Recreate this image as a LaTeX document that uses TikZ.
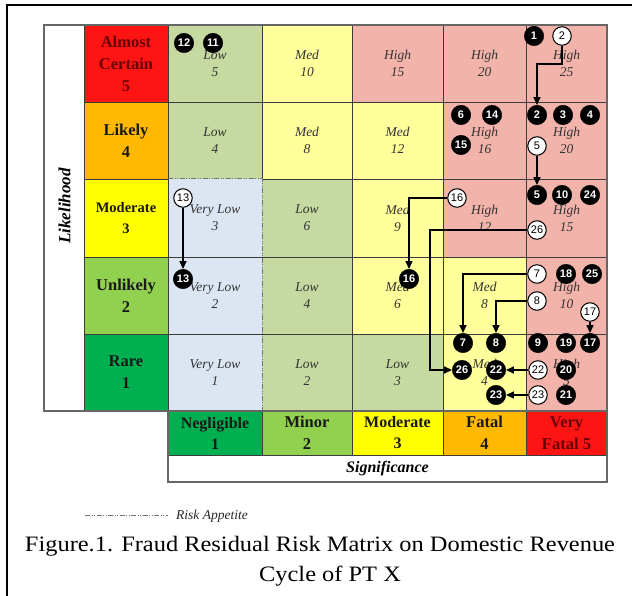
\documentclass[tikz,border=0pt]{standalone}
\usepackage{fontspec}
\setmainfont{Liberation Serif}
\newfontfamily\numfont{Liberation Sans}
\usetikzlibrary{arrows.meta}
\definecolor{cRed}{RGB}{255,20,20}
\definecolor{cOrange}{RGB}{255,185,0}
\definecolor{cYellow}{RGB}{255,255,0}
\definecolor{cLGreen}{RGB}{146,208,80}
\definecolor{cGreen}{RGB}{0,176,80}
\definecolor{pinkC}{RGB}{242,180,170}
\definecolor{yelC}{RGB}{255,255,155}
\definecolor{grnC}{RGB}{197,217,160}
\definecolor{bluC}{RGB}{220,230,242}
\definecolor{darkRed}{RGB}{105,0,0}
\definecolor{gridC}{RGB}{60,60,60}
\begin{document}
\begin{tikzpicture}[x=1pt,y=-1pt,
  cellbox/.style={inner sep=0pt, align=center, text=black!80,
    font=\itshape\fontsize{13.5}{17}\selectfont},
  hdr/.style={inner sep=0pt, align=center, text=black!90,
    font=\bfseries\fontsize{16.5}{22}\selectfont},
  bk/.style={circle, fill=black, draw=black, text=white, inner sep=0pt,
    minimum size=19.5pt, font=\numfont\bfseries\fontsize{11}{11}\selectfont},
  wh/.style={circle, fill=white, draw=black, line width=1pt, text=black, inner sep=0pt,
    minimum size=18.5pt, font=\numfont\fontsize{11}{11}\selectfont},
  arr/.style={line width=1.6pt, -{Triangle[length=8pt,width=7pt]}},
  gl/.style={draw=gridC, line width=0.8pt},
  appetite/.style={draw=black!55, line width=1pt,
    dash pattern=on 5pt off 1.5pt on 1pt off 1.5pt on 1pt off 1.5pt}]
\useasboundingbox (0,0) rectangle (632,596);
% outer frame (cropped)
\draw[line width=1.6pt] (7,596) -- (7,5) -- (632,5);

% ---- cells ----
% row 5
\node[cellbox, fill=grnC, minimum width=94pt, minimum height=77pt] (r5c1) at (215,63.5) {Low\\5};
\node[cellbox, fill=yelC, minimum width=90pt, minimum height=77pt] (r5c2) at (307,63.5) {Med\\10};
\node[cellbox, fill=pinkC, minimum width=91pt, minimum height=77pt] (r5c3) at (397.5,63.5) {High\\15};
\node[cellbox, fill=pinkC, minimum width=83pt, minimum height=77pt] (r5c4) at (484.5,63.5) {High\\20};
\node[cellbox, fill=pinkC, minimum width=81pt, minimum height=77pt] (r5c5) at (566.5,63.5) {High\\25};
% row 4
\node[cellbox, fill=grnC, minimum width=94pt, minimum height=77pt] (r4c1) at (215,140.5) {Low\\4};
\node[cellbox, fill=yelC, minimum width=90pt, minimum height=77pt] (r4c2) at (307,140.5) {Med\\8};
\node[cellbox, fill=yelC, minimum width=91pt, minimum height=77pt] (r4c3) at (397.5,140.5) {Med\\12};
\node[cellbox, fill=pinkC, minimum width=83pt, minimum height=77pt] (r4c4) at (484.5,140.5) {High\\16};
\node[cellbox, fill=pinkC, minimum width=81pt, minimum height=77pt] (r4c5) at (566.5,140.5) {High\\20};
% row 3
\node[cellbox, fill=bluC, minimum width=94pt, minimum height=78pt] (r3c1) at (215,218) {Very Low\\3};
\node[cellbox, fill=grnC, minimum width=90pt, minimum height=78pt] (r3c2) at (307,218) {Low\\6};
\node[cellbox, fill=yelC, minimum width=91pt, minimum height=78pt] (r3c3) at (397.5,218) {Med\\9};
\node[cellbox, fill=pinkC, minimum width=83pt, minimum height=78pt] (r3c4) at (484.5,218) {High\\12};
\node[cellbox, fill=pinkC, minimum width=81pt, minimum height=78pt] (r3c5) at (566.5,218) {High\\15};
% row 2
\node[cellbox, fill=bluC, minimum width=94pt, minimum height=77pt] (r2c1) at (215,295.5) {Very Low\\2};
\node[cellbox, fill=grnC, minimum width=90pt, minimum height=77pt] (r2c2) at (307,295.5) {Low\\4};
\node[cellbox, fill=yelC, minimum width=91pt, minimum height=77pt] (r2c3) at (397.5,295.5) {Med\\6};
\node[cellbox, fill=yelC, minimum width=83pt, minimum height=77pt] (r2c4) at (484.5,295.5) {Med\\8};
\node[cellbox, fill=pinkC, minimum width=81pt, minimum height=77pt] (r2c5) at (566.5,295.5) {High\\10};
% row 1
\node[cellbox, fill=bluC, minimum width=94pt, minimum height=77pt] (r1c1) at (215,372.5) {Very Low\\1};
\node[cellbox, fill=grnC, minimum width=90pt, minimum height=77pt] (r1c2) at (307,372.5) {Low\\2};
\node[cellbox, fill=grnC, minimum width=91pt, minimum height=77pt] (r1c3) at (397.5,372.5) {Low\\3};
\node[cellbox, fill=yelC, minimum width=83pt, minimum height=77pt] (r1c4) at (484.5,372.5) {Med\\4};
\node[cellbox, fill=pinkC, minimum width=81pt, minimum height=77pt] (r1c5) at (566.5,372.5) {High\\5};

% ---- row headers ----
\node[hdr, fill=cRed, text=darkRed, minimum width=84pt, minimum height=77pt] (h5) at (126,64) {Almost\\Certain\\5};
\node[hdr, fill=cOrange, minimum width=84pt, minimum height=77pt] (h4) at (126,140.5) {Likely\\4};
\node[hdr, fill=cYellow, minimum width=84pt, minimum height=78pt, font=\bfseries\fontsize{14.5}{21}\selectfont] (h3) at (126,218) {Moderate\\3};
\node[hdr, fill=cLGreen, minimum width=84pt, minimum height=77pt] (h2) at (126,295.5) {Unlikely\\2};
\node[hdr, fill=cGreen, minimum width=84pt, minimum height=77pt] (h1) at (126,372.5) {Rare\\1};
\node[inner sep=0pt, rotate=90, font=\bfseries\itshape\fontsize{17}{17}\selectfont] (lik) at (64.5,206) {Likelihood};

% ---- column headers ----
\node[hdr, fill=cGreen, minimum width=94pt, minimum height=44pt, font=\bfseries\fontsize{16}{21}\selectfont] (k1) at (215,433) {Negligible\\1};
\node[hdr, fill=cLGreen, minimum width=90pt, minimum height=44pt] (k2) at (307,433) {Minor\\2};
\node[hdr, fill=cYellow, minimum width=91pt, minimum height=44pt, font=\bfseries\fontsize{16}{21}\selectfont] (k3) at (397.5,433) {Moderate\\3};
\node[hdr, fill=cOrange, minimum width=83pt, minimum height=44pt] (k4) at (484.5,433) {Fatal\\4};
\node[hdr, fill=cRed, text=darkRed, minimum width=81pt, minimum height=44pt] (k5) at (566.5,433) {Very\\Fatal 5};
\node[inner sep=0pt, font=\bfseries\itshape\fontsize{16}{16}\selectfont] (sig) at (387.5,468.5) {Significance};

% ---- grid lines ----
\draw[gl] (84,102) -- (607,102);
\draw[gl] (84,179) -- (168,179) (262,179) -- (607,179);
\draw[gl] (84,257) -- (607,257);
\draw[gl] (84,334) -- (607,334);
\draw[gl] (84,25) -- (84,411);
\draw[gl] (168,25) -- (168,482);
\draw[gl] (262,25) -- (262,179) (262,411) -- (262,455);
\draw[gl] (352,25) -- (352,455);
\draw[gl] (443,25) -- (443,455);
\draw[gl] (526,25) -- (526,455);
\draw[gl] (168,455) -- (607,455);
\draw[draw=black!60, line width=1.3pt] (44,25) rectangle (607,411);
\draw[draw=black!60, line width=1.3pt] (168,411) -- (168,482) -- (607,482) -- (607,411);
% risk appetite boundary
\draw[appetite] (168,179) -- (262,179) -- (262,411);

% ---- risk markers ----
\node[bk] (b1) at (534,36) {1};
\node[wh] (w2) at (562,36) {2};
\node[bk] (b12) at (184,43) {12};
\node[bk] (b11) at (213,43) {11};
\node[bk] (b2) at (537,115) {2};
\node[bk] (b3) at (563,115) {3};
\node[bk] (b4) at (590,115) {4};
\node[bk] (b6) at (461,115) {6};
\node[bk] (b14) at (492,115) {14};
\node[bk] (b15) at (461,145) {15};
\node[wh] (w5) at (537,146) {5};
\node[bk] (b5) at (537,195) {5};
\node[bk] (b10) at (562,195) {10};
\node[bk] (b24) at (590,195) {24};
\node[wh] (w16) at (457,198) {16};
\node[bk] (b16) at (409,279) {16};
\node[wh] (w26) at (537,230) {26};
\node[bk] (b26) at (462,370) {26};
\node[wh] (w13) at (183,198) {13};
\node[bk] (b13) at (183,279) {13};
\node[wh] (w7) at (537,274) {7};
\node[bk] (b18) at (566,274) {18};
\node[bk] (b25) at (592,274) {25};
\node[wh] (w8) at (537,301) {8};
\node[wh] (w17) at (590,312) {17};
\node[bk] (b7) at (463,343) {7};
\node[bk] (b8) at (496,343) {8};
\node[bk] (b9) at (538,343) {9};
\node[bk] (b19) at (566,343) {19};
\node[bk] (b17) at (590,343) {17};
\node[bk] (b22) at (496,370) {22};
\node[wh] (w22) at (538,370) {22};
\node[bk] (b20) at (566,370) {20};
\node[bk] (b23) at (496,395) {23};
\node[wh] (w23) at (538,395) {23};
\node[bk] (b21) at (566,395) {21};

% ---- movement arrows ----
\draw[arr] (w2.south) -- ++(0,18) -| (b2.north);
\draw[arr] (w5.south) -- (b5.north);
\draw[arr] (w13.south) -- (b13.north);
\draw[arr] (w16.west) -| (b16.north);
\draw[arr] (w26.west) -- ++(-97.5,0) |- (b26.west);
\draw[arr] (w7.west) -| (b7.north);
\draw[arr] (w8.west) -| (b8.north);
\draw[arr] (w17.south) -- (b17.north);
\draw[arr] (w22.west) -- (b22.east);
\draw[arr] (w23.west) -- (b23.east);

% ---- legend ----
\coordinate (la) at (85,515);
\coordinate (lb) at (168,515);
\draw[appetite, line width=0.8pt] (la) -- (lb);
\node[anchor=west, inner sep=0pt, font=\itshape\fontsize{13.5}{13.5}\selectfont, text=black!85] (legtxt) at (176,516) {Risk Appetite};

% ---- caption ----
\node[inner sep=0pt, font=\fontsize{22}{22}\selectfont] (cap1) at (320,546) {\scalebox{1.11}[1]{Figure.1. Fraud Residual Risk Matrix on Domestic Revenue}};
\node[inner sep=0pt, font=\fontsize{22}{22}\selectfont] (cap2) at (330,576) {\scalebox{1.11}[1]{Cycle of PT X}};
\end{tikzpicture}
\end{document}
